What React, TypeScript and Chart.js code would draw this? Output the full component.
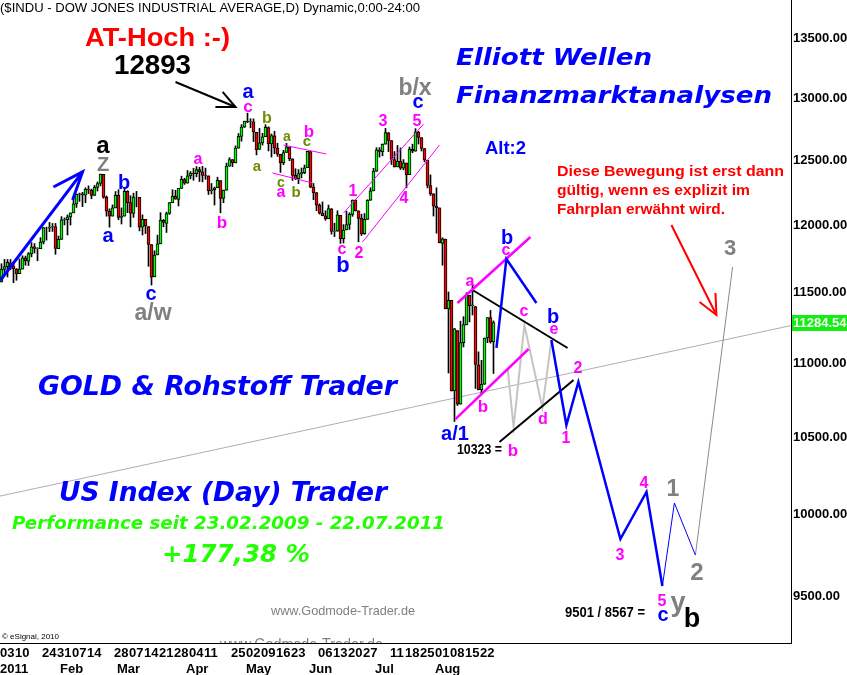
import React, { useEffect, useRef } from 'react';
import { Chart, registerables } from 'chart.js';

Chart.register(...registerables);

// ---------------- DATA (DJIA daily, 03.01.2011 - 26.08.2011) ----------------
const opens = [
  11577, 11670, 11689, 11717, 11696, 11672, 11638, 11672, 11754, 11730, 11783, 11836, 11822, 11823, 11871, 11977, 11976, 11985, 11988, 11823,
  11892, 12039, 12040, 12061, 12092, 12161, 12233, 12239, 12227, 12273, 12267, 12226, 12287, 12318, 12389, 12211, 12105, 12068, 12130,
  12226, 12057, 12068, 12258, 12171, 12089, 12213, 12211, 11983, 12043, 11988, 11853, 11615, 11777, 11859, 12036, 12013, 12088, 12170, 12221, 12196, 12280, 12349,
  12321, 12377, 12398, 12395, 12426, 12408, 12382, 12377, 12263, 12270, 12285, 12340, 12202, 12266, 12453, 12505, 12479, 12595, 12689, 12764,
  12810, 12806, 12806, 12722, 12586, 12637, 12686, 12760, 12629, 12693, 12595, 12547, 12478, 12561, 12604, 12511, 12381, 12355, 12394, 12402, 12442,
  12569, 12291, 12247, 12151, 12090, 12069, 12049, 12124, 11952, 11953, 12074, 11897, 11963, 12004, 12081, 12189, 12108, 12050, 11935, 12043, 12189, 12261,
  12414, 12582, 12568, 12627, 12717, 12655, 12505, 12448, 12492, 12437, 12478, 12386, 12585, 12571, 12724, 12679, 12592, 12500, 12302, 12239,
  12144, 12130, 11862, 11894, 11383, 11445, 10810, 11228, 10720, 11144, 11269, 11480, 11405, 11400, 10989, 10819, 10856, 11176, 11320, 11149,
];
const highs = [
  11711, 11743, 11742, 11743, 11726, 11676, 11746, 11770, 11768, 11794, 11868, 11861, 11830, 11905, 11982, 11984, 12020, 12012, 12012, 11917,
  12064, 12054, 12077, 12092, 12201, 12236, 12244, 12250, 12285, 12300, 12275, 12303, 12330, 12391, 12389, 12222, 12123, 12153, 12256,
  12270, 12130, 12283, 12262, 12224, 12243, 12257, 12211, 12077, 12043, 11988, 11853, 11807, 11924, 12094, 12042, 12098, 12171, 12270, 12265, 12280, 12375, 12359,
  12419, 12411, 12437, 12450, 12445, 12452, 12438, 12377, 12318, 12290, 12367, 12340, 12267, 12477, 12520, 12505, 12613, 12712, 12783, 12811,
  12876, 12831, 12830, 12722, 12753, 12713, 12783, 12766, 12708, 12730, 12634, 12547, 12578, 12633, 12604, 12511, 12433, 12427, 12439, 12462, 12570,
  12569, 12318, 12247, 12162, 12176, 12108, 12152, 12125, 12014, 12108, 12074, 12003, 12106, 12093, 12191, 12193, 12108, 12082, 12087, 12193, 12285, 12437,
  12599, 12600, 12629, 12753, 12720, 12655, 12568, 12617, 12597, 12505, 12478, 12604, 12627, 12751, 12730, 12679, 12592, 12500, 12385, 12239,
  12285, 12130, 11904, 11894, 11505, 11445, 11244, 11228, 11295, 11327, 11499, 11480, 11557, 11400, 11079, 11020, 11176, 11320, 11372, 11297,
];
const lows = [
  11577, 11631, 11614, 11667, 11572, 11590, 11638, 11672, 11700, 11698, 11762, 11790, 11733, 11823, 11858, 11887, 11950, 11952, 11781, 11823,
  11892, 12001, 11925, 12000, 12092, 12134, 12180, 12140, 12170, 12240, 12200, 12226, 12260, 12300, 12204, 12067, 11984, 12068, 12130,
  12040, 12008, 12068, 12094, 11986, 12058, 12138, 11956, 11925, 11936, 11692, 11555, 11615, 11777, 11859, 11987, 11944, 12081, 12170, 12197, 12145, 12280, 12311,
  12321, 12354, 12343, 12370, 12333, 12331, 12351, 12233, 12237, 12152, 12285, 12093, 12170, 12266, 12453, 12450, 12479, 12595, 12651, 12760,
  12799, 12758, 12648, 12542, 12586, 12620, 12686, 12573, 12525, 12551, 12530, 12404, 12465, 12560, 12496, 12342, 12348, 12317, 12362, 12395, 12442,
  12285, 12193, 12109, 12083, 12070, 12036, 12049, 11931, 11913, 11953, 11862, 11865, 11963, 11967, 12066, 12106, 11874, 11921, 11930, 12043, 12187, 12261,
  12412, 12525, 12535, 12627, 12568, 12466, 12446, 12448, 12427, 12425, 12285, 12386, 12559, 12571, 12628, 12573, 12488, 12284, 12225, 12068,
  11939, 11866, 11700, 11383, 10932, 10809, 10604, 10711, 10720, 11113, 11269, 11290, 11339, 10827, 10817, 10787, 10854, 11143, 11140, 10929,
];
const closes = [
  11671, 11691, 11722, 11697, 11675, 11637, 11671, 11755, 11732, 11787, 11837, 11825, 11823, 11872, 11980, 11977, 11985, 11989, 11824, 11892,
  12040, 12041, 12062, 12092, 12161, 12234, 12239, 12229, 12273, 12268, 12226, 12288, 12318, 12391, 12213, 12106, 12068, 12130, 12226,
  12058, 12066, 12258, 12170, 12090, 12214, 12213, 11984, 12044, 11993, 11855, 11613, 11775, 11859, 12037, 12019, 12086, 12171, 12221, 12198, 12280, 12350, 12320,
  12377, 12400, 12394, 12426, 12409, 12380, 12381, 12263, 12270, 12285, 12342, 12202, 12267, 12453, 12505, 12480, 12595, 12690, 12763, 12811,
  12808, 12807, 12724, 12584, 12638, 12685, 12761, 12630, 12696, 12596, 12548, 12479, 12561, 12606, 12512, 12381, 12356, 12395, 12403, 12441, 12570,
  12290, 12248, 12152, 12090, 12071, 12049, 12125, 11952, 11953, 12077, 11898, 11962, 12004, 12081, 12190, 12110, 12050, 11934, 12043, 12188, 12262, 12414,
  12582, 12570, 12626, 12719, 12657, 12506, 12447, 12492, 12437, 12480, 12385, 12587, 12572, 12725, 12681, 12593, 12502, 12303, 12240, 12143,
  12132, 11867, 11896, 11384, 11445, 10810, 11240, 10720, 11144, 11270, 11483, 11406, 11411, 10991, 10818, 10855, 11176, 11320, 11150, 11284.54,
];

const yTicks = [9500, 10000, 10500, 11000, 11500, 12000, 12500, 13000, 13500];
const yMin = 9223;
const yMax = 13827;
const xMin = -0.5;
const xMax = 263.17;

const dayTickIdx = [0, 5, 14, 19, 24, 29, 38, 43, 48, 53, 58, 63, 68, 77, 82, 87, 92, 97, 106, 111, 116, 121, 130, 135, 140, 145, 150, 155, 160];
const dayTickLbl = ['03', '10', '24', '31', '07', '14', '28', '07', '14', '21', '28', '04', '11', '25', '02', '09', '16', '23', '06', '13', '20', '27', '11', '18', '25', '01', '08', '15', '22'];
const monthTickIdx = [0, 20, 39, 62, 82, 103, 125, 145];
const monthTickLbl = ['2011', 'Feb', 'Mar', 'Apr', 'May', 'Jun', 'Jul', 'Aug'];

// annotation paths in (trading-day index, index value)
const trendLine = [{ x: -0.5, y: 10117 }, { x: 263.2, y: 11264 }];
const blueUpper = [{ x: 165, y: 11106 }, { x: 168.3, y: 11746 }, { x: 178.3, y: 11425 }];
const grayZig = [{ x: 168.7, y: 10967 }, { x: 170.7, y: 10567 }, { x: 174.3, y: 11268 }, { x: 180.3, y: 10694 }, { x: 183.3, y: 11162 }];
const blueMain = [{ x: 183.3, y: 11162 }, { x: 188.3, y: 10580 }, { x: 192.3, y: 10871 }, { x: 206.3, y: 9847 }, { x: 215, y: 10143 }, { x: 220.3, y: 9560 }];
const blueThin = [{ x: 220.3, y: 9560 }, { x: 224.3, y: 10073 }, { x: 231.3, y: 9748 }];
const grayThin = [{ x: 231.3, y: 9748 }, { x: 243.7, y: 11687 }];
const magUpper = [{ x: 152, y: 11425 }, { x: 176.3, y: 11910 }];
const magLower = [{ x: 151.3, y: 10620 }, { x: 175.7, y: 11099 }];
const blackUpper = [{ x: 157, y: 11519 }, { x: 188.7, y: 11106 }];
const blackLower = [{ x: 166, y: 10468 }, { x: 190.7, y: 10884 }];
const magThin1 = [{ x: 94, y: 12620 }, { x: 108.3, y: 12549 }];
const magThin2 = [{ x: 90.3, y: 12400 }, { x: 103.7, y: 12322 }];
const magChan1 = [{ x: 114, y: 12091 }, { x: 140.7, y: 12788 }];
const magChan2 = [{ x: 120.3, y: 11872 }, { x: 146, y: 12620 }];
const blueArrow = [{ x: -0.3, y: 11592 }, { x: 27, y: 12408 }];
const blueArrowHead = [{ x: 17.3, y: 12291 }, { x: 27, y: 12408 }, { x: 23.7, y: 12191 }];
const blackArrow = [{ x: 58, y: 13131 }, { x: 78, y: 12926 }];
const blackArrowHead = [{ x: 73.7, y: 13049 }, { x: 78, y: 12926 }, { x: 71.3, y: 12926 }];
const redArrow = [{ x: 223.3, y: 12000 }, { x: 238.3, y: 11339 }];
const redArrowHead = [{ x: 232.7, y: 11432 }, { x: 238.3, y: 11339 }, { x: 238, y: 11497 }];

// ---------------- styles / layout ----------------
const SANS = "'Liberation Sans', Arial, sans-serif";
const WIDE = "'DejaVu Sans', Verdana, sans-serif";
const BLUE = '#0000ff';
const MAG = '#ff00ff';
const GRAY = '#808080';
const BLK = '#000000';
const OLIVE = '#6b8e00';
const LIME = '#22ff00';

type Txt = { t: string; x: number; y: number; c: string; s: number; st?: string; fam?: string; w?: number; clip?: boolean };
const texts: Txt[] = [
  { t: '($INDU - DOW JONES INDUSTRIAL AVERAGE,D) Dynamic,0:00-24:00', x: 0, y: 7, c: BLK, s: 13, st: '', w: 420 },
  { t: 'AT-Hoch :-)', x: 85, y: 37, c: '#ff0000', s: 25, st: 'bold', w: 145 },
  { t: '12893', x: 114, y: 64, c: BLK, s: 28, st: 'bold', w: 77 },
  { t: 'Elliott Wellen', x: 456, y: 57, c: BLUE, s: 23, st: 'italic bold', fam: WIDE, w: 196 },
  { t: 'Finanzmarktanalysen', x: 456, y: 95, c: BLUE, s: 23, st: 'italic bold', fam: WIDE, w: 316 },
  { t: 'Alt:2', x: 485, y: 148, c: BLUE, s: 18, st: 'bold', w: 41 },
  { t: 'Diese Bewegung ist erst dann', x: 557, y: 171, c: '#ff0000', s: 14, st: 'bold', w: 227 },
  { t: 'gültig, wenn es explizit im', x: 557, y: 190, c: '#ff0000', s: 14, st: 'bold', w: 193 },
  { t: 'Fahrplan erwähnt wird.', x: 557, y: 209, c: '#ff0000', s: 14, st: 'bold', w: 168 },
  { t: 'GOLD & Rohstoff Trader', x: 38, y: 385, c: BLUE, s: 27, st: 'italic bold', fam: WIDE, w: 359 },
  { t: 'US Index (Day) Trader', x: 59, y: 492, c: BLUE, s: 26, st: 'italic bold', fam: WIDE, w: 328 },
  { t: 'Performance seit 23.02.2009 - 22.07.2011', x: 12, y: 523, c: LIME, s: 18, st: 'italic bold', fam: WIDE, w: 433 },
  { t: '+177,38 %', x: 162, y: 553, c: LIME, s: 25, st: 'italic bold', fam: WIDE, w: 148 },
  { t: 'www.Godmode-Trader.de', x: 271, y: 610, c: GRAY, s: 13, st: '', w: 144 },
  { t: 'www.Godmode-Trader.de', x: 220, y: 644, c: GRAY, s: 17, st: '', w: 163, clip: true },
  { t: '© eSignal, 2010', x: 2, y: 636, c: BLK, s: 8, st: '', w: 57 },
  { t: '10323 =', x: 457, y: 449, c: BLK, s: 14, st: 'bold', w: 45 },
  { t: '9501 / 8567 =', x: 565, y: 612, c: BLK, s: 14, st: 'bold', w: 80 },
];

type Lbl = [string, number, number, string, number];
const waveLabels: Lbl[] = [
  ['a', 103, 147, BLK, 24], ['Z', 103, 164, GRAY, 20], ['b', 124, 182, BLUE, 20], ['a', 108, 237, BLUE, 20],
  ['c', 151, 295, BLUE, 20], ['a/w', 153, 312, GRAY, 23],
  ['a', 198, 160, MAG, 16], ['b', 222, 222, MAG, 17], ['a', 248, 93, BLUE, 20], ['c', 248, 108, MAG, 17],
  ['b', 267, 117, OLIVE, 16], ['a', 257, 167, OLIVE, 15], ['a', 287, 137, OLIVE, 14], ['c', 281, 183, OLIVE, 14],
  ['a', 281, 193, MAG, 16], ['b', 296, 192, OLIVE, 15], ['b', 309, 131, MAG, 17], ['c', 307, 142, OLIVE, 15],
  ['1', 353, 190, MAG, 16], ['c', 342, 250, MAG, 16], ['b', 343, 264, BLUE, 22], ['2', 359, 252, MAG, 16],
  ['3', 383, 120, MAG, 16], ['b/x', 415, 87, GRAY, 23], ['c', 418, 103, BLUE, 20], ['5', 417, 120, MAG, 16], ['4', 404, 197, MAG, 16],
  ['a', 470, 282, MAG, 16], ['b', 507, 237, BLUE, 20], ['c', 506, 251, MAG, 16], ['c', 524, 312, MAG, 16],
  ['b', 553, 316, BLUE, 20], ['e', 554, 330, MAG, 16], ['b', 483, 406, MAG, 17], ['a/1', 455, 433, BLUE, 20],
  ['b', 513, 450, MAG, 17], ['d', 543, 418, MAG, 16],
  ['2', 578, 367, MAG, 16], ['1', 566, 437, MAG, 16], ['3', 620, 554, MAG, 16], ['4', 644, 482, MAG, 16],
  ['1', 673, 488, GRAY, 23], ['2', 697, 571, GRAY, 24], ['5', 662, 600, MAG, 16], ['c', 663, 616, BLUE, 20],
  ['y', 678, 607, GRAY, 27], ['b', 692, 617, BLK, 27], ['3', 730, 247, GRAY, 22],
];

function baseOffset(t: string): number {
  if (/^[aceimnorsuvwxz]+$/.test(t)) return 0.26;
  if (t === 'y') return 0.16;
  return 0.36;
}

const overlay = {
  id: 'overlay',
  beforeDraw(chart: any) {
    const ctx = chart.ctx;
    ctx.save();
    ctx.fillStyle = '#ffffff';
    ctx.fillRect(0, 0, chart.width, chart.height);
    ctx.restore();
  },
  afterDraw(chart: any) {
    const ctx = chart.ctx;
    const xs = chart.scales.x;
    const ys = chart.scales.y;
    const ca = chart.chartArea;
    ctx.save();
    // bottom axis line
    ctx.strokeStyle = '#000';
    ctx.lineWidth = 1;
    ctx.beginPath();
    ctx.moveTo(0, ca.bottom + 0.5);
    ctx.lineTo(ca.right + 1, ca.bottom + 0.5);
    ctx.stroke();
    // x labels
    ctx.fillStyle = '#000';
    ctx.font = `bold 13px ${SANS}`;
    ctx.textAlign = 'left';
    ctx.textBaseline = 'alphabetic';
    dayTickIdx.forEach((i, k) => {
      ctx.fillText(dayTickLbl[k], Math.round(xs.getPixelForValue(i) - 1.5), ca.bottom + 14);
    });
    monthTickIdx.forEach((i, k) => {
      ctx.fillText(monthTickLbl[k], Math.round(xs.getPixelForValue(i) - 1.5), ca.bottom + 30);
    });
    // last price marker
    const last = closes[closes.length - 1];
    const py = Math.round(ys.getPixelForValue(last));
    ctx.fillStyle = '#11ee11';
    ctx.fillRect(ca.right + 1, py - 8, chart.width - ca.right - 1, 16);
    ctx.fillStyle = '#ffffff';
    ctx.font = `bold 13px ${SANS}`;
    ctx.textBaseline = 'middle';
    ctx.fillText(last.toFixed(2), ca.right + 2, py);
    // free texts
    texts.forEach((t) => {
      ctx.save();
      if (t.clip) {
        ctx.beginPath();
        ctx.rect(0, 0, ca.right, ca.bottom);
        ctx.clip();
      }
      ctx.font = `${t.st || ''} ${t.s}px ${t.fam || SANS}`.trim();
      ctx.fillStyle = t.c;
      ctx.textAlign = 'left';
      ctx.textBaseline = 'alphabetic';
      const w = ctx.measureText(t.t).width;
      const sx = t.w ? t.w / w : 1;
      ctx.translate(t.x, t.y + 0.36 * t.s);
      ctx.scale(sx, 1);
      ctx.fillText(t.t, 0, 0);
      ctx.restore();
    });
    // wave labels
    waveLabels.forEach(([t, x, y, c, s]) => {
      ctx.font = `bold ${s}px ${SANS}`;
      ctx.fillStyle = c;
      ctx.textAlign = 'center';
      ctx.textBaseline = 'alphabetic';
      ctx.fillText(t, x, y + baseOffset(t) * s);
    });
    ctx.restore();
  },
};

function lineDs(data: any[], color: string, width: number, order: number) {
  return {
    type: 'line',
    data,
    borderColor: color,
    borderWidth: width,
    pointRadius: 0,
    fill: false,
    tension: 0,
    order,
  };
}

export default function App() {
  const ref = useRef<HTMLCanvasElement>(null);
  useEffect(() => {
    document.body.style.margin = '0';
    const idx = closes.map((_, i) => i);
    const bodyColors = idx.map((i) => (closes[i] >= opens[i] ? '#00ff00' : '#ff0000'));
    const chart = new Chart(ref.current as HTMLCanvasElement, {
      type: 'bar',
      data: {
        datasets: [
          lineDs(trendLine, '#b8a8b8', 1, 30) as any,
          {
            type: 'bar',
            data: idx.map((i) => ({ x: i, y: [lows[i], highs[i]] })),
            backgroundColor: '#000000',
            borderWidth: 0,
            barThickness: 1,
            grouped: false,
            order: 20,
          },
          {
            type: 'bar',
            data: idx.map((i) => ({ x: i, y: [opens[i], closes[i]] })),
            backgroundColor: bodyColors,
            borderColor: '#000000',
            borderWidth: 1,
            borderSkipped: false,
            barThickness: 3,
            grouped: false,
            order: 19,
          },
          lineDs(magThin1, MAG, 1, 5),
          lineDs(magThin2, MAG, 1, 5),
          lineDs(magChan1, MAG, 1, 5),
          lineDs(magChan2, MAG, 1, 5),
          lineDs(grayZig, '#c4c4c4', 2, 6),
          lineDs(magUpper, MAG, 2.5, 4),
          lineDs(magLower, MAG, 2.5, 4),
          lineDs(blackUpper, BLK, 2, 4),
          lineDs(blackLower, BLK, 2, 4),
          lineDs(blueUpper, BLUE, 2.5, 3),
          lineDs(blueMain, BLUE, 2.5, 3),
          lineDs(blueThin, BLUE, 1, 3),
          lineDs(grayThin, '#8a8a8a', 1, 3),
          lineDs(blueArrow, BLUE, 3, 2),
          lineDs(blueArrowHead, BLUE, 3, 2),
          lineDs(blackArrow, BLK, 2, 2),
          lineDs(blackArrowHead, BLK, 2, 2),
          lineDs(redArrow, '#ff0000', 2, 2),
          lineDs(redArrowHead, '#ff0000', 2, 2),
        ] as any,
      },
      options: {
        responsive: false,
        animation: false,
        devicePixelRatio: 1,
        events: [],
        layout: { padding: { left: 0, right: 0, top: 0, bottom: 32 } },
        plugins: { legend: { display: false }, tooltip: { enabled: false } },
        scales: {
          x: { type: 'linear', min: xMin, max: xMax, offset: false, display: false, grid: { offset: false } },
          y: {
            type: 'logarithmic',
            position: 'right',
            min: yMin,
            max: yMax,
            afterFit: (s: any) => {
              s.width = 56;
              s.paddingTop = 0;
              s.paddingBottom = 0;
            },
            afterBuildTicks: (s: any) => {
              s.ticks = yTicks.map((v) => ({ value: v }));
            },
            ticks: {
              autoSkip: false,
              padding: 2,
              color: '#000',
              font: { family: SANS, size: 13, weight: 'bold' },
              callback: (v: any) => Number(v).toFixed(2),
            },
            grid: { display: false, drawTicks: false, tickLength: 0 },
            border: { display: true, color: '#000', width: 1 },
          },
        } as any,
      },
      plugins: [overlay],
    } as any);
    return () => chart.destroy();
  }, []);
  return (
    <div style={{ position: 'absolute', left: 0, top: 0, width: 847, height: 675 }}>
      <canvas ref={ref} width={847} height={675} style={{ display: 'block', width: 847, height: 675 }} />
    </div>
  );
}
